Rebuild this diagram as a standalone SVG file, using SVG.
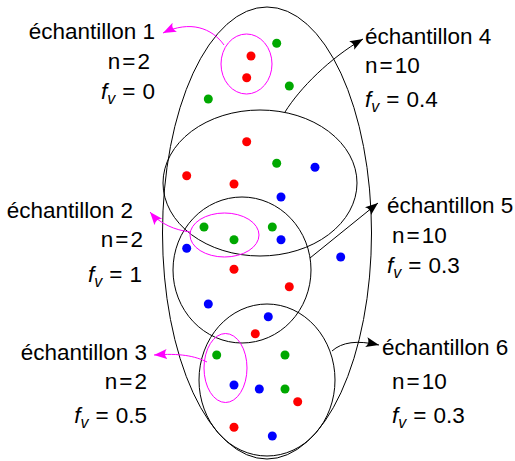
<svg xmlns="http://www.w3.org/2000/svg" width="515" height="461" viewBox="0 0 515 461">
<style>
.e{fill:none;stroke:#000;stroke-width:1}
.m{fill:none;stroke:#ff00ff;stroke-width:1}
.ak{fill:none;stroke:#000;stroke-width:1}
.am{fill:none;stroke:#ff00ff;stroke-width:1}
.r{fill:#ff0000}
.g{fill:#00a800}
.b{fill:#0000ff}
text{font-family:"Liberation Sans",Arial,sans-serif;font-size:22.5px;fill:#000}
.it{font-style:italic}
.sub{font-style:italic;font-size:16px}
</style>
<defs>
<marker id="hk" markerUnits="userSpaceOnUse" markerWidth="14" markerHeight="12" refX="13" refY="5" orient="auto">
<path d="M0,0 Q4,5 0,10 L13,5 Z" fill="#000"/>
</marker>
<marker id="hm" markerUnits="userSpaceOnUse" markerWidth="14" markerHeight="12" refX="13" refY="5" orient="auto">
<path d="M0,0 Q4,5 0,10 L13,5 Z" fill="#ff00ff"/>
</marker>
</defs>
<g id="population">
<ellipse class="e" cx="267" cy="233" rx="104.5" ry="226"/>
</g>
<g id="echantillon4">
<ellipse class="e" cx="260" cy="183" rx="97" ry="73"/>
</g>
<g id="echantillon5">
<ellipse class="e" cx="242" cy="270" rx="69" ry="73"/>
</g>
<g id="echantillon6">
<ellipse class="e" cx="267" cy="380" rx="68" ry="76"/>
</g>
<g id="echantillon1">
<ellipse class="m" cx="246.5" cy="64" rx="25.5" ry="30"/>
</g>
<g id="echantillon2">
<ellipse class="m" cx="224.5" cy="235" rx="34.5" ry="22"/>
</g>
<g id="echantillon3">
<ellipse class="m" cx="225.5" cy="368" rx="21.5" ry="34.5"/>
</g>
<g id="points">
<circle class="g" cx="276.7" cy="43.3" r="4.5"/>
<circle class="r" cx="251" cy="56" r="4.5"/>
<circle class="r" cx="246.7" cy="77.7" r="4.5"/>
<circle class="g" cx="289.3" cy="86" r="4.5"/>
<circle class="g" cx="208.3" cy="99" r="4.5"/>
<circle class="r" cx="246.7" cy="141.7" r="4.5"/>
<circle class="g" cx="276.7" cy="163.3" r="4.5"/>
<circle class="b" cx="315" cy="167.3" r="4.5"/>
<circle class="r" cx="186.7" cy="175.7" r="4.5"/>
<circle class="r" cx="234" cy="184" r="4.5"/>
<circle class="b" cx="281" cy="197" r="4.5"/>
<circle class="g" cx="204" cy="227" r="4.5"/>
<circle class="g" cx="272.3" cy="227" r="4.5"/>
<circle class="g" cx="234" cy="239.7" r="4.5"/>
<circle class="b" cx="281" cy="239.7" r="4.5"/>
<circle class="b" cx="186.7" cy="248.3" r="4.5"/>
<circle class="b" cx="340.7" cy="257" r="4.5"/>
<circle class="r" cx="234" cy="269.3" r="4.5"/>
<circle class="r" cx="289.3" cy="286.7" r="4.5"/>
<circle class="b" cx="208.3" cy="304" r="4.5"/>
<circle class="b" cx="268.3" cy="316.7" r="4.5"/>
<circle class="r" cx="255.3" cy="333.7" r="4.5"/>
<circle class="g" cx="216.7" cy="355" r="4.5"/>
<circle class="g" cx="285" cy="355" r="4.5"/>
<circle class="b" cx="234" cy="385" r="4.5"/>
<circle class="b" cx="259.3" cy="389" r="4.5"/>
<circle class="g" cx="285" cy="389" r="4.5"/>
<circle class="r" cx="297.7" cy="401.7" r="4.5"/>
<circle class="r" cx="234" cy="427.3" r="4.5"/>
<circle class="b" cx="272.3" cy="436" r="4.5"/>
</g>
<g id="connectors">
<path class="am" d="M224,45 C212,28 190,20 163,33" marker-end="url(#hm)"/>
<path class="am" d="M190,232 C175,230 160,224 150,212" marker-end="url(#hm)"/>
<path class="am" d="M207,362 C195,356 180,353 154,355" marker-end="url(#hm)"/>
<path class="ak" d="M285,112 C300,88 330,58 363,39" marker-end="url(#hk)"/>
<path class="ak" d="M310,258 L378,203" marker-end="url(#hk)"/>
<path class="ak" d="M332,351 C342,342 357,340 379,345" marker-end="url(#hk)"/>
</g>
<g id="label1">
<text x="155" y="39" text-anchor="end">échantillon 1</text>
<text x="150" y="69" text-anchor="end">n<tspan dx="2">=</tspan><tspan dx="2">2</tspan></text>
<text x="155" y="99" text-anchor="end"><tspan class="it">f</tspan><tspan class="sub" dy="5">v</tspan><tspan dy="-5" dx="7">=</tspan><tspan dx="7">0</tspan></text>
</g>
<g id="label2">
<text x="133" y="218" text-anchor="end">échantillon 2</text>
<text x="143" y="247" text-anchor="end">n<tspan dx="2">=</tspan><tspan dx="2">2</tspan></text>
<text x="142" y="282" text-anchor="end"><tspan class="it">f</tspan><tspan class="sub" dy="5">v</tspan><tspan dy="-5" dx="7">=</tspan><tspan dx="7">1</tspan></text>
</g>
<g id="label3">
<text x="147" y="360" text-anchor="end">échantillon 3</text>
<text x="147" y="389" text-anchor="end">n<tspan dx="2">=</tspan><tspan dx="2">2</tspan></text>
<text x="147" y="423" text-anchor="end"><tspan class="it">f</tspan><tspan class="sub" dy="5">v</tspan><tspan dy="-5" dx="7">=</tspan><tspan dx="7">0.5</tspan></text>
</g>
<g id="label4">
<text x="365" y="44">échantillon 4</text>
<text x="365" y="73">n<tspan dx="2">=</tspan><tspan dx="2">10</tspan></text>
<text x="365" y="107"><tspan class="it">f</tspan><tspan class="sub" dy="5">v</tspan><tspan dy="-5" dx="7">=</tspan><tspan dx="7">0.4</tspan></text>
</g>
<g id="label5">
<text x="387" y="213">échantillon 5</text>
<text x="392" y="243">n<tspan dx="2">=</tspan><tspan dx="2">10</tspan></text>
<text x="387" y="273"><tspan class="it">f</tspan><tspan class="sub" dy="5">v</tspan><tspan dy="-5" dx="7">=</tspan><tspan dx="7">0.3</tspan></text>
</g>
<g id="label6">
<text x="382" y="355">échantillon 6</text>
<text x="392" y="389">n<tspan dx="2">=</tspan><tspan dx="2">10</tspan></text>
<text x="392" y="423"><tspan class="it">f</tspan><tspan class="sub" dy="5">v</tspan><tspan dy="-5" dx="7">=</tspan><tspan dx="7">0.3</tspan></text>
</g>
</svg>
